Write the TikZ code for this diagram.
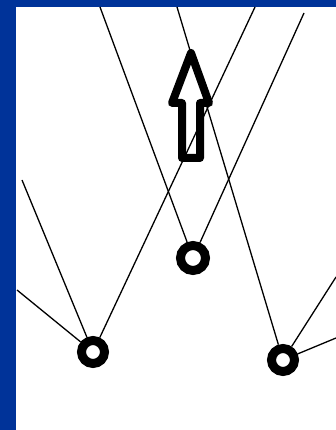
\documentclass[tikz,border=0pt]{standalone}
\definecolor{bgblue}{RGB}{0,51,153}
\begin{document}
\begin{tikzpicture}[x=1pt,y=-1pt,
  ring/.style={circle,draw=black,line width=9pt,minimum size=23pt,inner sep=0pt},
  wire/.style={line width=1.3pt,black},
  blockarrow/.style={line width=8pt,line join=round,black}]
\useasboundingbox (0,0) rectangle (336,430);
\fill[bgblue] (0,0) rectangle (336,430);
\fill[white] (16,7) rectangle (336,430);
\node[ring] (L) at (93,352) {};
\node[ring, minimum width=25pt] (M) at (193,258) {};
\node[ring] (R) at (283,360) {};
\coordinate (a) at (100,7);
\coordinate (b) at (177,7);
\coordinate (c) at (255,7);
\coordinate (d) at (304,13);
\coordinate (e) at (22,180);
\coordinate (f) at (17,290);
\coordinate (g) at (336,277);
\coordinate (h) at (336,338);
\draw[wire] (a) -- (M);
\draw[wire] (b) -- (R);
\draw[wire] (c) -- (L);
\draw[wire] (d) -- (M);
\draw[wire] (e) -- (L);
\draw[wire] (f) -- (L);
\draw[wire] (g) -- (R);
\draw[wire] (h) -- (R);
\draw[blockarrow] (182,158) -- (182,103) -- (172,103) -- (191,53) -- (209,103) -- (200,103) -- (200,158) -- cycle;
\end{tikzpicture}
\end{document}
